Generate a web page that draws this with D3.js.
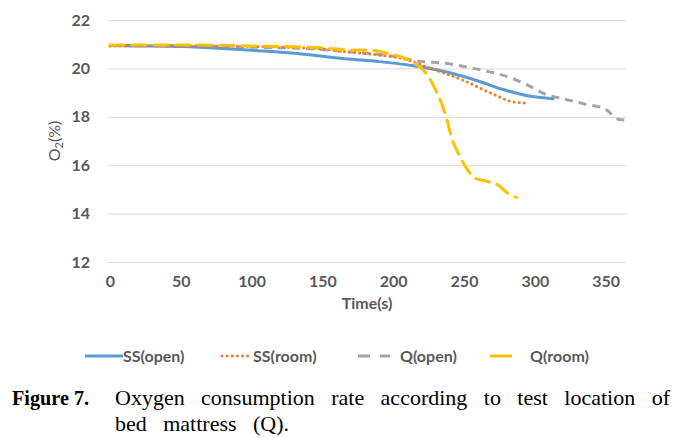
<!DOCTYPE html>
<html><head><meta charset="utf-8">
<script src="https://cdn.jsdelivr.net/npm/d3@7"></script>
<style>body{margin:0;background:#fff}svg{display:block}</style>
</head><body>
<svg id="c" width="690" height="438"></svg>
<script>
const xTicks = [0, 50, 100, 150, 200, 250, 300, 350];
const yTicks = [12, 14, 16, 18, 20, 22];
const seriesNames = ["SS(open)", "SS(room)", "Q(open)", "Q(room)"];
const ssOpenT = [0, 20, 50, 80, 100, 130, 150, 166, 190, 213, 237, 260, 277, 295, 313];
const ssOpenV = [20.95, 20.93, 20.9, 20.82, 20.75, 20.63, 20.5, 20.4, 20.28, 20.12, 19.86, 19.48, 19.14, 18.87, 18.75];
const ssRoomT = [0, 50, 100, 150, 166, 190, 208, 225, 249, 272, 284, 295];
const ssRoomV = [20.92, 20.93, 20.9, 20.8, 20.69, 20.55, 20.39, 20.03, 19.52, 18.9, 18.62, 18.56];
const qOpenT = [0, 50, 100, 150, 166, 200, 217, 237, 260, 284, 295, 309, 319, 335, 350, 359, 364];
const qOpenV = [20.95, 20.93, 20.88, 20.78, 20.7, 20.5, 20.31, 20.21, 19.96, 19.59, 19.31, 18.9, 18.76, 18.53, 18.31, 17.9, 17.87];
const qRoomT = [0, 50, 100, 150, 166, 185, 196, 208, 217, 225, 230, 235, 238, 241, 246, 251, 258, 267, 274, 281, 287];
const qRoomV = [20.97, 20.97, 20.93, 20.85, 20.77, 20.75, 20.63, 20.42, 20.14, 19.66, 19.1, 18.42, 17.87, 17.18, 16.49, 15.94, 15.46, 15.32, 15.18, 14.84, 14.67];

const colors = ["#5B9BD5", "#ED7D31", "#A5A5A5", "#FFC000"];
const dashes = [null, "0.1 5", "8 6", "14 8"];
const caps = ["round", "round", "butt", "round"];
const seriesT = [ssOpenT, ssRoomT, qOpenT, qRoomT];
const seriesV = [ssOpenV, ssRoomV, qOpenV, qRoomV];
const labelFont = "Lato, 'Open Sans', sans-serif";

const svg = d3.select("#c");
const x = d3.scaleLinear().domain([-1.4, 364.4]).range([108, 626]);
const y = d3.scaleLinear().domain([12, 22]).range([262, 20]);

// gridlines
svg.append("g").attr("transform", "translate(108,0)")
  .call(d3.axisLeft(y).tickValues(yTicks).tickSize(-(626 - 108)).tickFormat(""))
  .call(g => g.select(".domain").remove())
  .call(g => g.selectAll("line").attr("stroke", "#d9d9d9").attr("stroke-width", 1));

// y tick labels
svg.append("g").attr("transform", "translate(108,0)")
  .call(d3.axisLeft(y).tickValues(yTicks).tickSize(0).tickPadding(18).tickFormat(d3.format("d")))
  .call(g => g.select(".domain").remove())
  .call(g => g.selectAll("text").attr("font-family", labelFont)
    .attr("font-weight", "bold").attr("font-size", 16).attr("fill", "#595959"));

// x tick labels
svg.append("g").attr("transform", "translate(0,262)")
  .call(d3.axisBottom(x).tickValues(xTicks).tickSize(0).tickPadding(14).tickFormat(d3.format("d")))
  .call(g => g.select(".domain").remove())
  .call(g => g.selectAll("text").attr("font-family", labelFont)
    .attr("font-weight", "bold").attr("font-size", 16).attr("fill", "#595959"));

// axis titles
svg.append("text").attr("x", 367).attr("y", 309).attr("text-anchor", "middle")
  .attr("font-family", labelFont).attr("font-weight", "bold")
  .attr("font-size", 16).attr("fill", "#595959").text("Time(s)");
const yt = svg.append("text").attr("transform", "translate(60,141) rotate(-90)")
  .attr("text-anchor", "middle").attr("font-family", labelFont)
  .attr("font-size", 16).attr("fill", "#595959");
yt.append("tspan").text("O");
yt.append("tspan").attr("font-size", 11).attr("dy", 3).text("2");
yt.append("tspan").attr("dy", -3).text("(%)");

// lines
const line = d3.line().x(d => x(d[0])).y(d => y(d[1])).curve(d3.curveMonotoneX);
[2, 0, 1, 3].forEach(i => {
  const data = seriesT[i].map((t, k) => [t, seriesV[i][k]]);
  svg.append("path").datum(data).attr("d", line).attr("fill", "none")
    .attr("stroke", colors[i]).attr("stroke-width", 3)
    .attr("stroke-linecap", caps[i]).attr("stroke-linejoin", "round")
    .attr("stroke-dasharray", dashes[i]);
});

// legend
const legendItems = [
  {x1: 85, x2: 123, tx: 123},
  {x1: 222, x2: 252, tx: 253},
  {x1: 358, x2: 390, tx: 400},
  {x1: 490, x2: 512, tx: 530}
];
const legendDash = [null, "0.1 5", "12 10", "22 10"];
const lg = svg.append("g");
legendItems.forEach((it, i) => {
  lg.append("line").attr("x1", it.x1).attr("x2", it.x2).attr("y1", 356).attr("y2", 356)
    .attr("stroke", colors[i]).attr("stroke-width", 3)
    .attr("stroke-linecap", i === 1 ? "round" : "butt")
    .attr("stroke-dasharray", legendDash[i]);
  lg.append("text").attr("x", it.tx).attr("y", 362).attr("font-family", labelFont)
    .attr("font-weight", "bold").attr("font-size", 16).attr("fill", "#595959").text(seriesNames[i]);
});

// caption (justified line 1)
const cap = svg.append("g").attr("font-family", "'Liberation Serif', 'Times New Roman', serif")
  .attr("font-size", 22).attr("fill", "#000");
cap.append("text").attr("x", 12).attr("y", 405).attr("font-weight", "bold")
  .attr("transform", "translate(12,405) scale(0.92,1) translate(-12,-405)").text("Figure 7.");
const words = "Oxygen consumption rate according to test location of".split(" ");
const nodes = words.map(w => cap.append("text").attr("y", 405).text(w));
const widths = nodes.map(n => n.node().getComputedTextLength());
const total = d3.sum(widths);
const gap = (670 - 115 - total) / (words.length - 1);
let cx = 115;
nodes.forEach((n, k) => { n.attr("x", cx); cx += widths[k] + gap; });
const w2 = "bed mattress (Q).".split(" ");
let cx2 = 115;
w2.forEach(w => {
  const t = cap.append("text").attr("x", cx2).attr("y", 431).text(w);
  cx2 += t.node().getComputedTextLength() + gap;
});
</script>
</body></html>
